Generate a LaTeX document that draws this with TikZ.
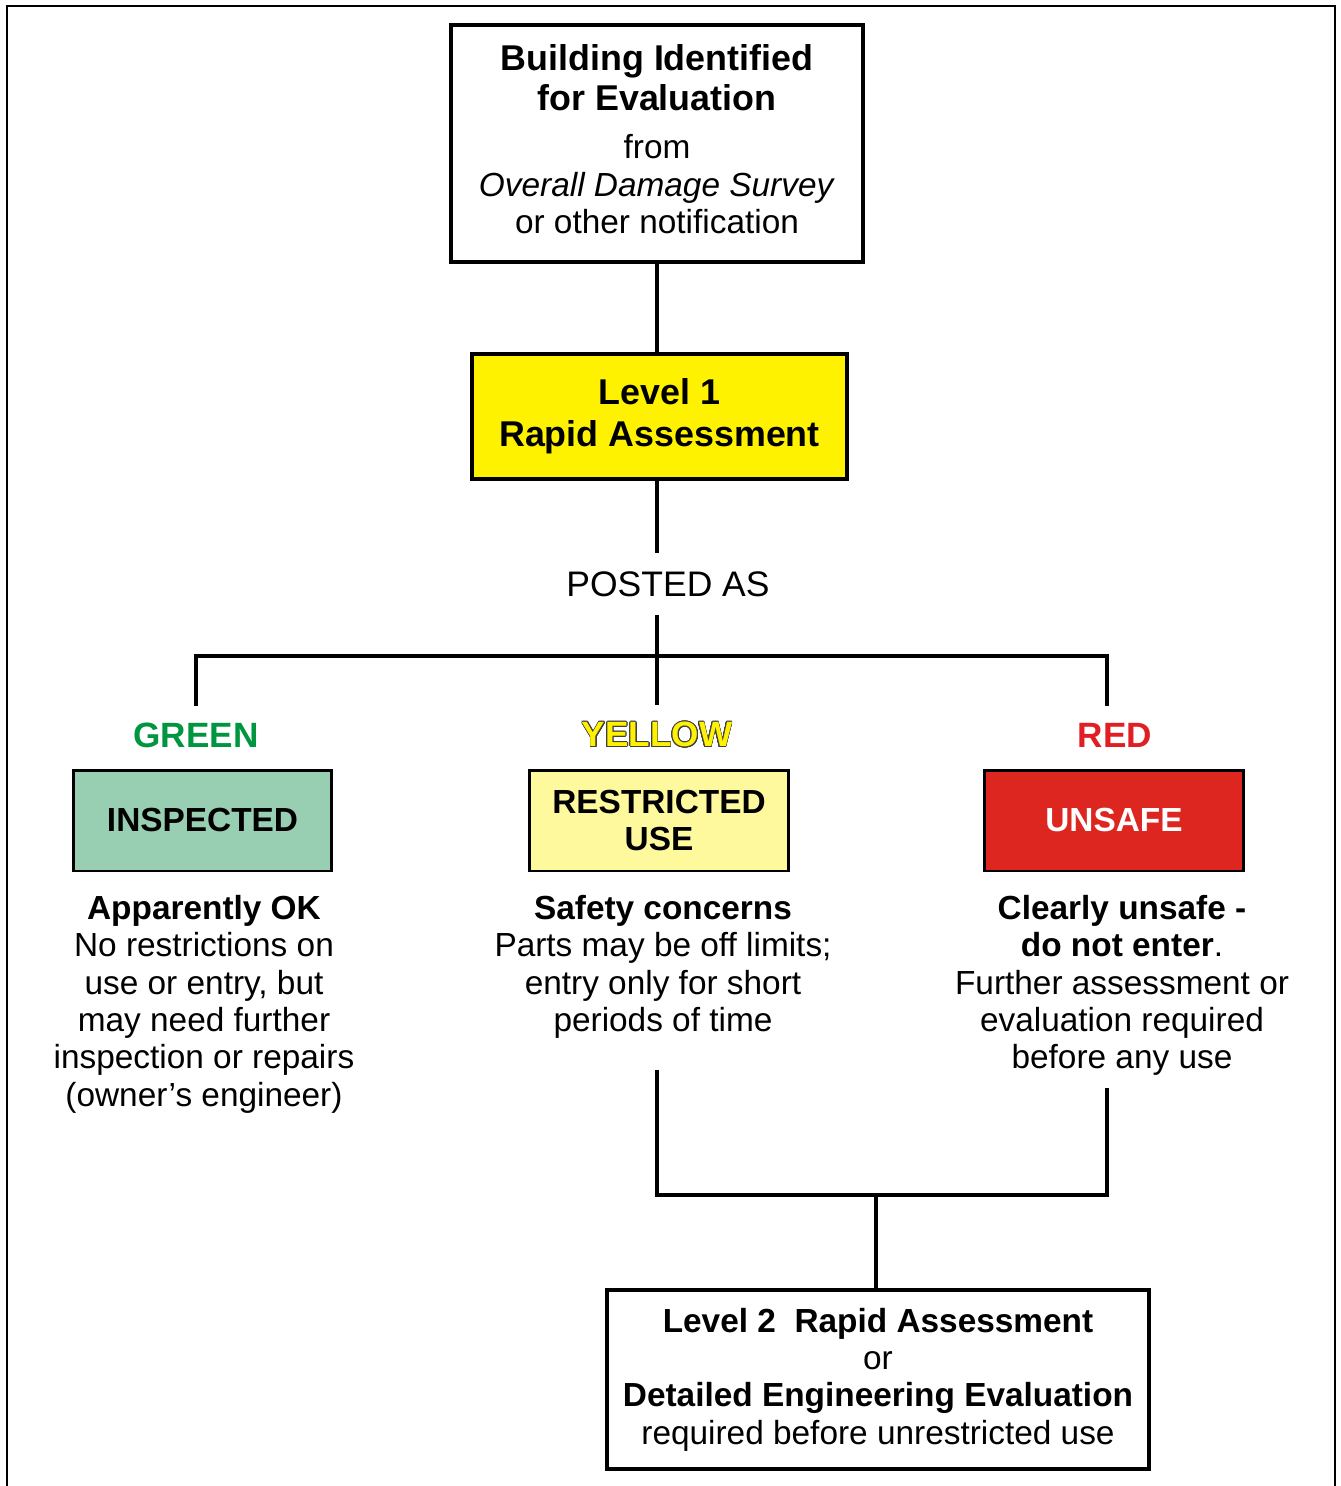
\documentclass[tikz,border=0pt]{standalone}
\usepackage{fontspec}
\setmainfont{Liberation Sans}
\usepackage{contour}
\contourlength{0.45pt}
\contournumber{24}
\definecolor{grn}{RGB}{0,150,64}
\definecolor{lvlyellow}{RGB}{255,242,0}
\definecolor{inspfill}{RGB}{152,207,178}
\definecolor{restfill}{RGB}{255,249,158}
\definecolor{unsafefill}{RGB}{222,38,32}
\definecolor{redtxt}{RGB}{225,30,35}
\begin{document}
\begin{tikzpicture}[x=0.02cm, y=-0.02cm, line width=2.3pt, line join=miter,
	box/.style={draw, line width=2.3pt, align=center, inner sep=0pt, font=\fontsize{19}{21.3}\selectfont},
	tag/.style={draw, line width=1.7pt, align=center, inner sep=0pt, minimum width=5.18cm, minimum height=2.02cm, font=\fontsize{19}{21.1}\selectfont\bfseries},
	flag/.style={inner xsep=0pt, inner ysep=0.3cm, font=\fontsize{20}{22}\selectfont\bfseries},
	desc/.style={align=center, inner sep=0pt, anchor=north, font=\fontsize{19}{21.3}\selectfont}]
	\useasboundingbox (0,0) rectangle (1340,1486);
	\draw[line width=1.6pt] (7,1486) -- (7,6) -- (1335,6) -- (1335,1486);
	\coordinate (hub) at (657,656);
	\coordinate (ymid) at (657,1070);
	\coordinate (rmid) at (1107,1088);
	\coordinate (merge) at (876,1195);
	% top of the chart
	\node[box, minimum width=8.24cm, minimum height=4.74cm, text depth=0.18cm] (top) at (657,143.5)
		{\textbf{\fontsize{20.4}{22}\selectfont Building Identified}\\[1.4pt]
		 \textbf{\fontsize{20.4}{22}\selectfont for Evaluation}\\[6.5pt]
		 from\\ \textit{Overall Damage Survey}\\ or other notification};
	\node[box, fill=lvlyellow, minimum width=7.5cm, minimum height=2.5cm, font=\fontsize{20.4}{23.9}\selectfont\bfseries] (lvlone) at (659.5,416.5) {Level 1\\Rapid Assessment};
	\node[font=\fontsize{20.2}{22}\selectfont, inner xsep=0pt, inner ysep=0.33cm] (posted) at (668,584) {POSTED AS};
	\draw (top.south) -- (top.south |- lvlone.north);
	\draw (hub |- lvlone.south) -- (hub |- posted.north);
	\draw (hub |- posted.south) -- (hub);
	% the three postings
	\node[flag, text=grn] (green) at (196,735) {GREEN};
	\node[flag] (yellow) at (657,735) {\contour{black!75}{\textcolor{lvlyellow}{YELLOW}}};
	\node[flag, text=redtxt] (red) at (1115,735) {RED};
	\draw (green.north) -- (green.north |- hub) -- (rmid |- hub) -- (rmid |- red.north);
	\draw (hub) -- (yellow.north);
	\node[tag, fill=inspfill] (insp) at (202.5,820.5) {INSPECTED};
	\node[tag, fill=restfill] (restr) at (659,820.5) {RESTRICTED\\USE};
	\node[tag, fill=unsafefill, text=white] (unsafe) at (1114,820.5) {UNSAFE};
	\node[desc] (okdesc) at (204,893) {\textbf{Apparently OK}\\No restrictions on\\use or entry, but\\may need further\\inspection or repairs\\(owner’s engineer)};
	\node[desc] (safedesc) at (663,893) {\textbf{Safety concerns}\\Parts may be off limits;\\entry only for short\\periods of time};
	\node[desc] (reddesc) at (1122,893) {\textbf{Clearly unsafe -}\\\textbf{do not enter}.\\Further assessment or\\evaluation required\\before any use};
	% level 2
	\node[box, minimum width=10.84cm, minimum height=3.58cm] (lvltwo) at (878,1379.5)
		{\textbf{Level 2\ \ Rapid Assessment}\\or\\\textbf{Detailed Engineering Evaluation}\\required before unrestricted use};
	\draw (ymid) -- (ymid |- merge) -- (rmid |- merge) -- (rmid);
	\draw (merge) -- (merge |- lvltwo.north);
\end{tikzpicture}
\end{document}
